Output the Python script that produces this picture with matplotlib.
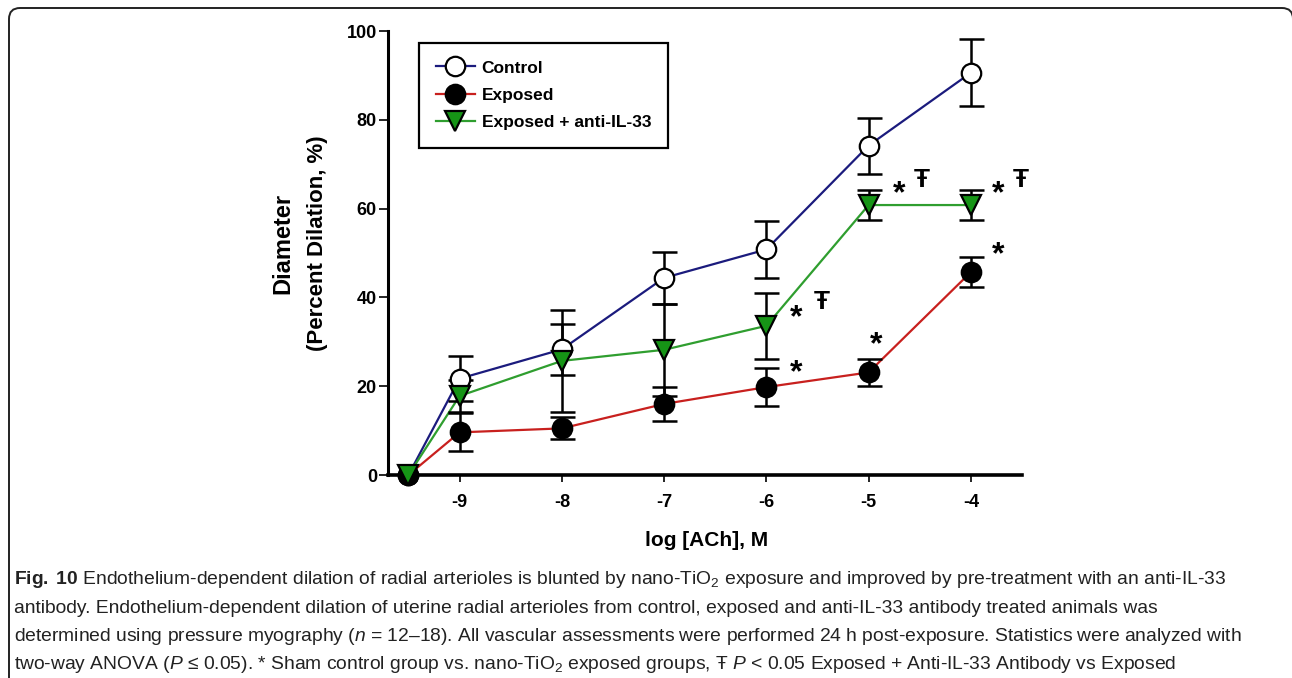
import matplotlib
matplotlib.use("Agg")
import matplotlib.pyplot as plt
from matplotlib import font_manager
from matplotlib.lines import Line2D
from matplotlib.patches import FancyBboxPatch
from matplotlib.transforms import IdentityTransform

# Data
log_ach = [-9.5, -9, -8, -7, -6, -5, -4]
control = [0, 21.7, 28.3, 44.4, 50.8, 74.2, 90.6]
control_sem = [0, 5.0, 5.7, 5.8, 6.5, 6.3, 7.6]
exposed = [0, 9.6, 10.5, 16.0, 19.8, 23.1, 45.7]
exposed_sem = [0, 4.3, 2.5, 3.8, 4.3, 3.0, 3.3]
anti = [0, 17.8, 25.7, 28.2, 33.6, 60.8, 60.8]
anti_sem = [0, 3.5, 11.5, 10.3, 7.5, 3.4, 3.4]
series_names = ["Control", "Exposed", "Exposed + anti-IL-33"]
x_ticks = [-9, -8, -7, -6, -5, -4]
y_ticks = [0, 20, 40, 60, 80, 100]

# significance marks: x, y, symbol
mark_x = [-5.71, -5.46, -5.71, -4.93, -4.70, -4.48, -3.73, -3.51, -3.73]
mark_y = [35.2, 38.9, 22.9, 29.2, 63.3, 66.5, 63.3, 66.5, 49.4]
mark_txt = ["*", "Ŧ", "*", "*", "*", "Ŧ", "*", "Ŧ", "*"]

caption = [
    r"$\mathbf{Fig.\;10}$ Endothelium-dependent dilation of radial arterioles is blunted by nano-TiO$_2$ exposure and improved by pre-treatment with an anti-IL-33",
    "antibody. Endothelium-dependent dilation of uterine radial arterioles from control, exposed and anti-IL-33 antibody treated animals was",
    r"determined using pressure myography ($n$ = 12–18). All vascular assessments were performed 24 h post-exposure. Statistics were analyzed with",
    r"two-way ANOVA ($P$ ≤ 0.05). * Sham control group vs. nano-TiO$_2$ exposed groups, Ŧ $P$ < 0.05 Exposed + Anti-IL-33 Antibody vs Exposed",
]

# Fonts
names = {f.name for f in font_manager.fontManager.ttflist}
cap_font = "Liberation Sans Narrow" if "Liberation Sans Narrow" in names else "Liberation Sans"
plt.rcParams["font.family"] = ["Liberation Sans", "DejaVu Sans"]
plt.rcParams["axes.unicode_minus"] = False
plt.rcParams["mathtext.fontset"] = "custom"
plt.rcParams["mathtext.rm"] = cap_font
plt.rcParams["mathtext.it"] = cap_font + ":italic"
plt.rcParams["mathtext.bf"] = cap_font + ":bold"

W, H = 1292, 678
fig = plt.figure(figsize=(W / 100, H / 100), dpi=100)
fig.patch.set_facecolor("white")

# axes: left 388px, right 1022px, y=0 at 475px, y=100 at 31px
ax = fig.add_axes([388 / W, 1 - 475 / H, (1022 - 388) / W, (475 - 31) / H])
ax.set_xlim(-9.7, -3.5)
ax.set_ylim(0, 100)

colors = ["#1b1b7d", "#c8201e", "#2f9e2f"]
vals = [control, exposed, anti]
sems = [control_sem, exposed_sem, anti_sem]
markers = ["o", "o", "v"]
faces = ["white", "black", "#169416"]

for y, c in zip(vals, colors):
    ax.plot(log_ach, y, color=c, lw=1.6, zorder=2, clip_on=False)
for y, e in zip(vals, sems):
    ax.errorbar(log_ach[1:], y[1:], yerr=e[1:], fmt="none", ecolor="black",
                elinewidth=1.8, capsize=9, capthick=1.8, zorder=3)
for y, m, f in zip(vals, markers, faces):
    ax.plot(log_ach, y, ls="none", marker=m, ms=14, mfc=f, mec="black",
            mew=1.6, zorder=4, clip_on=False)

for x, y, t in zip(mark_x, mark_y, mark_txt):
    ax.text(x, y, t, ha="center", va="center", fontweight="bold",
            fontsize=23 if t == "*" else 19, family=["Liberation Sans", "DejaVu Sans"])

# legend
handles = [Line2D([], [], color=c, lw=1.6, marker=m, ms=14, mfc=f, mec="black", mew=1.6)
           for c, m, f in zip(colors, markers, faces)]
leg = ax.legend(handles, series_names, loc="upper left",
                bbox_to_anchor=((419 - 388) / 634, (475 - 43) / 444),
                borderaxespad=0, frameon=True, fancybox=False, framealpha=1,
                edgecolor="black", prop={"weight": "bold", "size": 12.5},
                handlelength=2.2, handletextpad=0.4, labelspacing=0.71,
                borderpad=1.0)
leg.get_frame().set_linewidth(1.6)

for s in ["top", "right"]:
    ax.spines[s].set_visible(False)
ax.spines["left"].set_linewidth(2.2)
ax.spines["bottom"].set_linewidth(2.6)
ax.set_xticks(x_ticks)
ax.set_xticklabels([str(v) for v in x_ticks])
ax.set_yticks(y_ticks)
ax.tick_params(axis="x", length=5, width=1.2, pad=9, labelsize=13)
ax.tick_params(axis="y", length=6.5, width=1.2, pad=1.5, labelsize=13)
for lab in ax.get_xticklabels() + ax.get_yticklabels():
    lab.set_fontweight("bold")

# axis titles
fig.text(707 / W, 1 - 541 / H, "log [ACh], M", ha="center", va="center",
         fontsize=15, fontweight="bold")
fig.text(283 / W, 1 - 243 / H, "Diameter", ha="center", va="center",
         rotation=90, fontsize=17, fontweight="bold")
fig.text(317 / W, 1 - 243 / H, "(Percent Dilation, %)", ha="center", va="center",
         rotation=90, fontsize=16, fontweight="bold")

# rounded panel border
border = FancyBboxPatch((9, -30), 1284, 678 - 8 + 30, boxstyle="round,pad=0,rounding_size=11",
                        transform=IdentityTransform(), fill=False, ec="#222222", lw=1.4)
fig.add_artist(border)

# caption, sized so line 3 spans the same width as in the reference
baselines = [584, 613, 641, 669]
cap_texts = [fig.text(14 / W, 1 - b / H, line, ha="left", va="baseline", fontsize=15,
                      family=[cap_font, "DejaVu Sans"], color="#222222")
             for line, b in zip(caption, baselines)]
r = fig.canvas.get_renderer()
w3 = cap_texts[2].get_window_extent(r).width
size = 15 * (1243 - 14) / w3
for t in cap_texts:
    t.set_fontsize(size)

fig.savefig("out.png", dpi=100)
